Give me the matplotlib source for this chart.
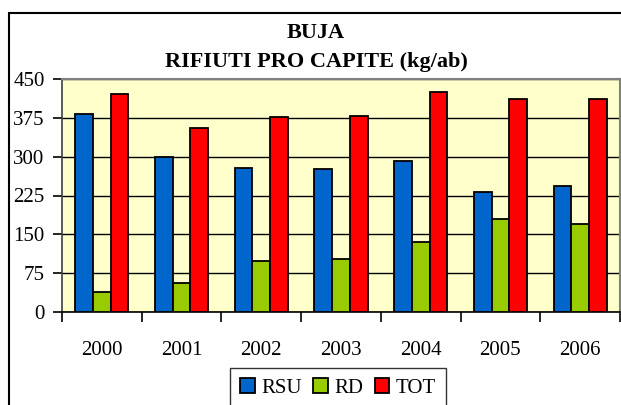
import matplotlib

matplotlib.use("Agg")
import matplotlib.pyplot as plt  # noqa: E402
import numpy as np  # noqa: E402
from matplotlib.patches import Rectangle  # noqa: E402

# values (kg per inhabitant)
years = ["2000", "2001", "2002", "2003", "2004", "2005", "2006"]
rsu = [382, 300, 279, 276, 291, 231, 243]
rd = [38, 56, 98, 103, 136, 180, 169]
tot = [421, 356, 376, 379, 424, 412, 412]
series_names = ["RSU", "RD", "TOT"]
series_colors = ["#0066CC", "#99CC00", "#FF0000"]
y_ticks = [0, 75, 150, 225, 300, 375, 450]

plt.rcParams["font.family"] = "serif"
plt.rcParams["font.serif"] = ["Liberation Serif", "DejaVu Serif"]

fig = plt.figure(figsize=(6.21, 4.05), dpi=100)
ax = fig.add_axes([62 / 621, 1 - 312 / 405, 558 / 621, 233 / 405])
ax.set_facecolor("#FFFFCC")

x = np.arange(len(years))
width = 0.222
for i, (vals, name, col) in enumerate(zip([rsu, rd, tot], series_names, series_colors)):
    ax.bar(x + (i - 1) * width, vals, width, color=col, edgecolor="black",
           linewidth=1.3, label=name, zorder=3)

ax.set_xlim(-0.5, len(years) - 0.5)
ax.set_ylim(0, 450)
ax.set_yticks(y_ticks)
ax.set_yticklabels([str(v) for v in y_ticks], fontsize=15)
ax.yaxis.grid(True, color="black", linewidth=1.0, zorder=1)
ax.set_axisbelow(True)

# category labels centred, tick marks on category boundaries
ax.set_xticks(x)
ax.set_xticklabels(years, fontsize=15)
ax.tick_params(axis="x", length=0, pad=21)
ax.set_xticks(np.arange(len(years) + 1) - 0.5, minor=True)
ax.tick_params(axis="x", which="minor", length=7, width=1.2, color="black")
ax.tick_params(axis="y", length=6.5, width=1.2, pad=6)

for side in ["top", "right"]:
    ax.spines[side].set_color("#808080")
    ax.spines[side].set_linewidth(1.5)
ax.spines["left"].set_color("#404040")
ax.spines["bottom"].set_color("black")
ax.spines["left"].set_linewidth(1.2)
ax.spines["bottom"].set_linewidth(1.2)

fig.text(0.509, 1 - 33 / 405, "BUJA", ha="center", va="center",
         fontsize=16, fontweight="bold")
fig.text(0.509, 1 - 62 / 405, "RIFIUTI PRO CAPITE (kg/ab)", ha="center",
         va="center", fontsize=16, fontweight="bold")

# outer chart frame, cut by the image edge on the right and bottom
fig.add_artist(Rectangle((8.5 / 621, -0.1), 1.2, 1 - 13 / 405 + 0.1,
                         transform=fig.transFigure, fill=False,
                         edgecolor="black", linewidth=1.5))

leg = fig.legend(loc="upper left", bbox_to_anchor=(230 / 621, 1 - 368 / 405),
                 ncol=3, fontsize=15, frameon=True, fancybox=False,
                 handlelength=0.7, handleheight=0.7, handletextpad=0.3,
                 columnspacing=0.55, borderpad=0.5, borderaxespad=0)
leg.get_frame().set_edgecolor("black")
leg.get_frame().set_linewidth(1.0)

fig.savefig("out.png", dpi=100)
